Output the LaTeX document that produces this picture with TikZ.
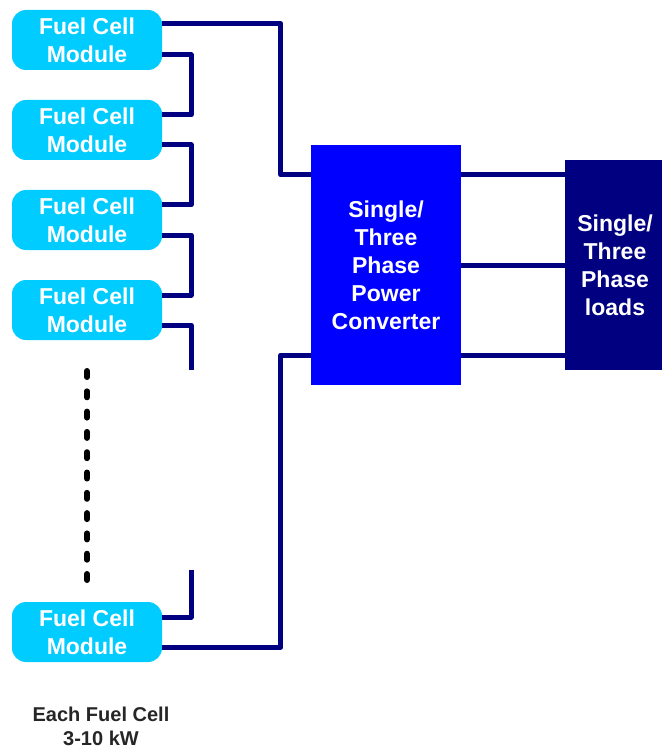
\documentclass[tikz,border=0pt]{standalone}
\usepackage{fontspec}
\setmainfont{Liberation Sans}
\usetikzlibrary{positioning}
\definecolor{fccyan}{HTML}{00CCFF}
\definecolor{wirenavy}{HTML}{000080}
\definecolor{convblue}{HTML}{0000FF}
\newcommand{\boxfont}{\bfseries\fontsize{23}{28}\selectfont}

\begin{document}
\begin{tikzpicture}[x=1pt,y=-1pt,
    module/.style={fill=fccyan,rounded corners=14pt,minimum width=150pt,minimum height=60pt,
      inner sep=0pt,text=white,align=center,font=\boxfont},
    block/.style={minimum width=150pt,minimum height=240pt,inner sep=0pt,text=white,
      align=center,font=\boxfont},
    wire/.style={draw=wirenavy,line width=5pt,line join=round}]
  \useasboundingbox (0,0) rectangle (661,751);
  % fuel cell modules, x = pixel column, y = pixel row of the centre
  \foreach \n/\y in {1/40,2/130,3/220,4/310,5/632}
    \node[module] (fc\n) at (87,\y) {Fuel Cell\\Module};
  \node[block,fill=convblue] (conv) at (386,265) {Single/\\Three\\Phase\\Power\\Converter};
  \node[block,fill=wirenavy,minimum width=100pt,minimum height=210pt] (loads) at (615,265)
    {Single/\\Three\\Phase\\loads};
  % modules in series
  \foreach \a/\b in {fc1/fc2,fc2/fc3,fc3/fc4}
    \draw[wire] ([yshift=-15pt]\a.east) -- ++(29,0) |- ([yshift=15pt]\b.east);
  \coordinate (open4) at (191,370);
  \coordinate (open5) at (191,570);
  \draw[wire] ([yshift=-15pt]fc4.east) -| (open4);
  \draw[wire] (open5) |- ([yshift=15pt]fc5.east);
  % string ends to the converter
  \draw[wire] ([yshift=16pt]fc1.east) -| ([xshift=-30pt,yshift=90pt]conv.west) -- ([yshift=90pt]conv.west);
  \draw[wire] ([yshift=-15pt]fc5.east) -| ([xshift=-30pt,yshift=-90pt]conv.west) -- ([yshift=-90pt]conv.west);
  % converter to loads
  \foreach \s in {90,0,-90}
    \draw[wire] ([yshift=\s pt]conv.east) -- ([yshift=\s pt]loads.west);
  % more modules
  \draw[line width=6pt,line cap=round,dash pattern=on 6pt off 14.3pt] (87,371) -- (87,580);
  \node[align=center,text=black!85,font=\bfseries\fontsize{20}{24}\selectfont] (note) at (101,726)
    {Each Fuel Cell\\3-10 kW};
\end{tikzpicture}
\end{document}
